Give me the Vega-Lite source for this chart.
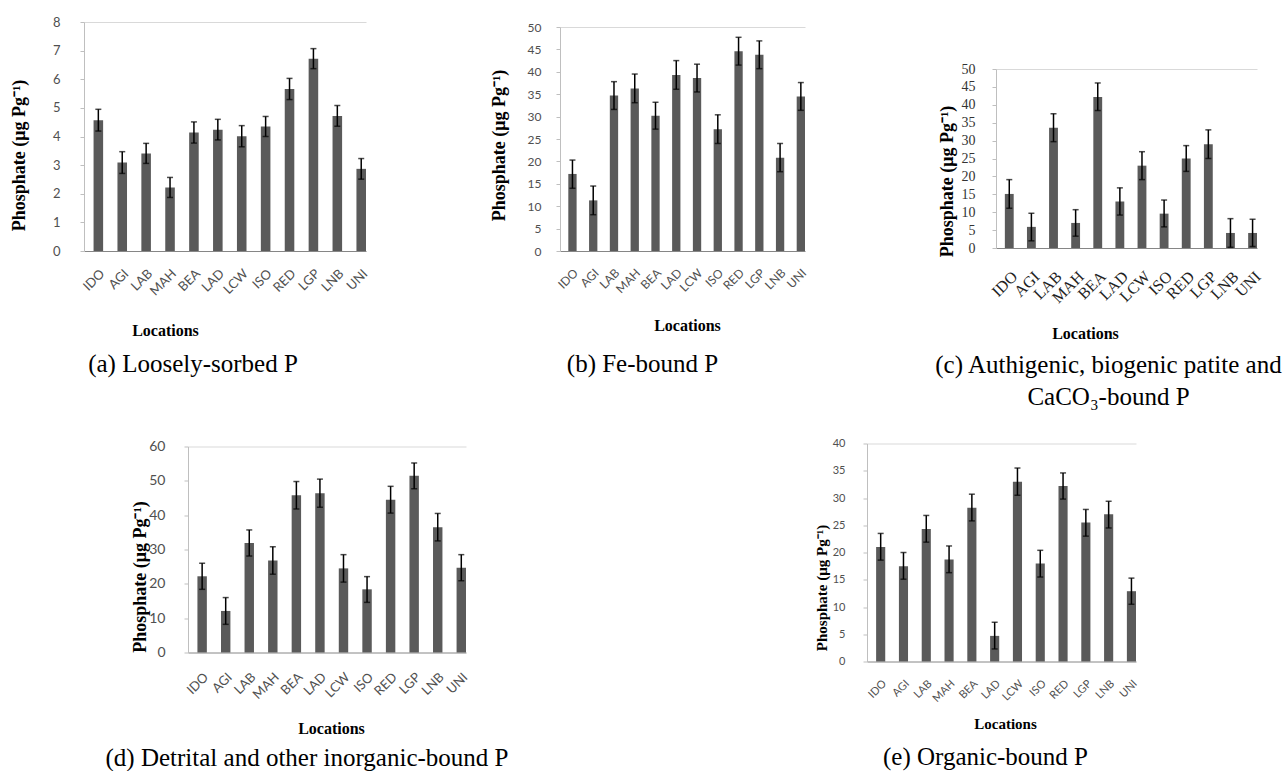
{
  "$schema": "https://vega.github.io/schema/vega-lite/v6.json",
  "background": "white",
  "padding": {"left": 9, "top": 10, "right": 0, "bottom": 0},
  "config": {
    "view": {"stroke": null},
    "axis": {"labelFont": "Lato", "labelColor": "#505050", "titleFont": "Liberation Serif", "titleFontWeight": "bold", "titleColor": "#000000", "domainColor": "#a6a6a6", "tickColor": "#a6a6a6", "titleAlign": "center", "titleBaseline": "middle", "labelOverlap": false},
    "axisX": {"labelAngle": -45, "ticks": false, "titleAngle": 0, "domainColor": "#868686", "labelFontSize": 12},
    "axisY": {"tickSize": 4, "titleAngle": -90, "labelFontSize": 12, "grid": true, "domainColor": "#bfbfbf", "tickColor": "#bfbfbf"},
    "bar": {"color": "#5a5a5a"},
    "title": {"orient": "bottom", "anchor": "middle", "frame": "group", "font": "Liberation Serif", "fontSize": 25, "fontWeight": "normal", "color": "#000000", "lineHeight": 32}
  },
  "datasets": {
    "a": [
      {"loc": "IDO", "v": 4.57, "lo": 4.19, "hi": 4.95},
      {"loc": "AGI", "v": 3.09, "lo": 2.71, "hi": 3.47},
      {"loc": "LAB", "v": 3.41, "lo": 3.06, "hi": 3.76},
      {"loc": "MAH", "v": 2.22, "lo": 1.87, "hi": 2.57},
      {"loc": "BEA", "v": 4.14, "lo": 3.77, "hi": 4.51},
      {"loc": "LAD", "v": 4.24, "lo": 3.88, "hi": 4.60},
      {"loc": "LCW", "v": 4.01, "lo": 3.64, "hi": 4.38},
      {"loc": "ISO", "v": 4.35, "lo": 4.00, "hi": 4.70},
      {"loc": "RED", "v": 5.66, "lo": 5.29, "hi": 6.03},
      {"loc": "LGP", "v": 6.72, "lo": 6.37, "hi": 7.07},
      {"loc": "LNB", "v": 4.72, "lo": 4.36, "hi": 5.08},
      {"loc": "UNI", "v": 2.87, "lo": 2.51, "hi": 3.23}
    ],
    "b": [
      {"loc": "IDO", "v": 17.2, "lo": 14.0, "hi": 20.3},
      {"loc": "AGI", "v": 11.3, "lo": 8.1, "hi": 14.5},
      {"loc": "LAB", "v": 34.7, "lo": 31.6, "hi": 37.8},
      {"loc": "MAH", "v": 36.3, "lo": 33.1, "hi": 39.5},
      {"loc": "BEA", "v": 30.2, "lo": 27.2, "hi": 33.2},
      {"loc": "LAD", "v": 39.3, "lo": 36.1, "hi": 42.5},
      {"loc": "LCW", "v": 38.6, "lo": 35.5, "hi": 41.7},
      {"loc": "ISO", "v": 27.2, "lo": 24.0, "hi": 30.4},
      {"loc": "RED", "v": 44.6, "lo": 41.5, "hi": 47.7},
      {"loc": "LGP", "v": 43.8, "lo": 40.7, "hi": 46.9},
      {"loc": "LNB", "v": 20.8, "lo": 17.7, "hi": 24.0},
      {"loc": "UNI", "v": 34.5, "lo": 31.4, "hi": 37.6}
    ],
    "c": [
      {"loc": "IDO", "v": 15.1, "lo": 11.1, "hi": 19.1},
      {"loc": "AGI", "v": 5.9, "lo": 2.0, "hi": 9.7},
      {"loc": "LAB", "v": 33.6, "lo": 29.7, "hi": 37.5},
      {"loc": "MAH", "v": 7.0, "lo": 3.3, "hi": 10.7},
      {"loc": "BEA", "v": 42.2, "lo": 38.4, "hi": 46.1},
      {"loc": "LAD", "v": 13.0, "lo": 9.2, "hi": 16.8},
      {"loc": "LCW", "v": 23.0, "lo": 19.1, "hi": 26.9},
      {"loc": "ISO", "v": 9.6, "lo": 5.9, "hi": 13.4},
      {"loc": "RED", "v": 25.0, "lo": 21.4, "hi": 28.6},
      {"loc": "LGP", "v": 29.0, "lo": 25.0, "hi": 33.0},
      {"loc": "LNB", "v": 4.2, "lo": 0.2, "hi": 8.2},
      {"loc": "UNI", "v": 4.2, "lo": 0.4, "hi": 8.0}
    ],
    "d": [
      {"loc": "IDO", "v": 22.2, "lo": 18.4, "hi": 26.0},
      {"loc": "AGI", "v": 12.1, "lo": 8.2, "hi": 16.0},
      {"loc": "LAB", "v": 31.9, "lo": 28.1, "hi": 35.7},
      {"loc": "MAH", "v": 26.8, "lo": 22.8, "hi": 30.8},
      {"loc": "BEA", "v": 45.8, "lo": 41.8, "hi": 49.8},
      {"loc": "LAD", "v": 46.4, "lo": 42.3, "hi": 50.5},
      {"loc": "LCW", "v": 24.5, "lo": 20.5, "hi": 28.5},
      {"loc": "ISO", "v": 18.4, "lo": 14.6, "hi": 22.1},
      {"loc": "RED", "v": 44.5, "lo": 40.6, "hi": 48.4},
      {"loc": "LGP", "v": 51.5, "lo": 47.7, "hi": 55.2},
      {"loc": "LNB", "v": 36.5, "lo": 32.5, "hi": 40.5},
      {"loc": "UNI", "v": 24.7, "lo": 20.9, "hi": 28.5}
    ],
    "e": [
      {"loc": "IDO", "v": 21.0, "lo": 18.6, "hi": 23.5},
      {"loc": "AGI", "v": 17.5, "lo": 15.1, "hi": 20.0},
      {"loc": "LAB", "v": 24.3, "lo": 21.9, "hi": 26.8},
      {"loc": "MAH", "v": 18.7, "lo": 16.3, "hi": 21.2},
      {"loc": "BEA", "v": 28.2, "lo": 25.8, "hi": 30.7},
      {"loc": "LAD", "v": 4.7, "lo": 2.3, "hi": 7.2},
      {"loc": "LCW", "v": 33.0, "lo": 30.5, "hi": 35.5},
      {"loc": "ISO", "v": 18.0, "lo": 15.5, "hi": 20.4},
      {"loc": "RED", "v": 32.2, "lo": 29.8, "hi": 34.6},
      {"loc": "LGP", "v": 25.5, "lo": 23.0, "hi": 27.9},
      {"loc": "LNB", "v": 27.0, "lo": 24.5, "hi": 29.4},
      {"loc": "UNI", "v": 12.9, "lo": 10.5, "hi": 15.3}
    ]
  },
  "spacing": 26.5,
  "vconcat": [
    {
      "spacing": 119,
      "hconcat": [
        {
          "spacing": 0,
          "vconcat": [
            {"width": 1, "height": 6, "data": {"values": []}, "mark": {"type": "point", "opacity": 0}},
            {
              "width": 282, "height": 229,
              "data": {"name": "a"},
              "title": {"text": "(a) Loosely-sorbed P", "dx": -32, "offset": 14},
              "encoding": {
                "x": {"field": "loc", "type": "nominal", "sort": null, "scale": {"paddingInner": 0.6, "paddingOuter": 0.2, "align": 1},
                  "axis": {"title": "Locations", "titleFontSize": 16, "titleX": 81, "titleY": 79, "labelPadding": 16, "labelFontSize": 13}}
              },
              "layer": [
                {"mark": "bar", "encoding": {"y": {"field": "v", "type": "quantitative", "scale": {"domain": [0, 8], "nice": false},
                  "axis": {"title": "Phosphate (μg Pg⁻¹)", "values": [0, 1, 2, 3, 4, 5, 6, 7, 8], "titleFontSize": 18, "titleX": -65, "titleY": 133, "labelPadding": 20, "labelFontSize": 13,
                    "gridColor": {"condition": {"test": "datum.value === 8", "value": "#d9d9d9"}, "value": "transparent"}}}}},
                {"mark": {"type": "errorbar", "color": "#000000", "thickness": 1.5, "ticks": {"size": 6, "thickness": 1.5, "color": "#000000"}},
                  "encoding": {"y": {"field": "lo", "type": "quantitative", "scale": {"domain": [0, 8], "nice": false},
                    "axis": {"title": "Phosphate (μg Pg⁻¹)", "values": [0, 1, 2, 3, 4, 5, 6, 7, 8], "titleFontSize": 18, "titleX": -65, "titleY": 133, "labelPadding": 20, "labelFontSize": 13,
                      "gridColor": {"condition": {"test": "datum.value === 8", "value": "#d9d9d9"}, "value": "transparent"}}}, "y2": {"field": "hi"}}}
              ]
            }
          ]
        },
        {
          "spacing": 125,
          "hconcat": [
            {
              "spacing": 0,
              "vconcat": [
                {"width": 1, "height": 11, "data": {"values": []}, "mark": {"type": "point", "opacity": 0}},
                {
                  "width": 245, "height": 224,
                  "data": {"name": "b"},
                  "title": {"text": "(b) Fe-bound P", "dx": -40, "offset": 19},
                  "encoding": {
                    "x": {"field": "loc", "type": "nominal", "sort": null, "scale": {"paddingInner": 0.6, "paddingOuter": 0.2, "align": 1},
                      "axis": {"title": "Locations", "titleFontSize": 16, "titleX": 127, "titleY": 74, "labelPadding": 16, "labelFontSize": 12}}
                  },
                  "layer": [
                    {"mark": "bar", "encoding": {"y": {"field": "v", "type": "quantitative", "scale": {"domain": [0, 50], "nice": false},
                      "axis": {"title": "Phosphate (μg Pg⁻¹)", "values": [0, 5, 10, 15, 20, 25, 30, 35, 40, 45, 50], "titleFontSize": 18, "titleX": -61, "titleY": 118, "labelPadding": 15, "labelFontSize": 12,
                        "gridColor": {"condition": {"test": "datum.value === 50", "value": "#d9d9d9"}, "value": "transparent"}}}}},
                    {"mark": {"type": "errorbar", "color": "#000000", "thickness": 1.5, "ticks": {"size": 6, "thickness": 1.5, "color": "#000000"}},
                      "encoding": {"y": {"field": "lo", "type": "quantitative", "scale": {"domain": [0, 50], "nice": false},
                        "axis": {"title": "Phosphate (μg Pg⁻¹)", "values": [0, 5, 10, 15, 20, 25, 30, 35, 40, 45, 50], "titleFontSize": 18, "titleX": -61, "titleY": 118, "labelPadding": 15, "labelFontSize": 12,
                          "gridColor": {"condition": {"test": "datum.value === 50", "value": "#d9d9d9"}, "value": "transparent"}}}, "y2": {"field": "hi"}}}
                  ]
                }
              ]
            },
            {
              "spacing": 0,
              "vconcat": [
                {"width": 1, "height": 52, "data": {"values": []}, "mark": {"type": "point", "opacity": 0}},
                {
                  "width": 261, "height": 179,
                  "data": {"name": "c"},
                  "title": {"text": ["(c) Authigenic, biogenic patite and", "CaCO₃-bound P"], "dx": -18, "offset": 12},
                  "encoding": {
                    "x": {"field": "loc", "type": "nominal", "sort": null, "scale": {"paddingInner": 0.6, "paddingOuter": 0.2, "align": 1},
                      "axis": {"title": "Locations", "titleFontSize": 16, "titleX": 89, "titleY": 85, "labelPadding": 20, "labelFont": "Liberation Serif", "labelFontSize": 16, "labelColor": "#222222"}}
                  },
                  "layer": [
                    {"mark": "bar", "encoding": {"y": {"field": "v", "type": "quantitative", "scale": {"domain": [0, 50], "nice": false},
                      "axis": {"title": "Phosphate (μg Pg⁻¹)", "values": [0, 5, 10, 15, 20, 25, 30, 35, 40, 45, 50], "titleFontSize": 18, "titleX": -49, "titleY": 112, "labelPadding": 17, "labelFont": "Liberation Serif", "labelFontSize": 14, "labelColor": "#333333",
                        "gridColor": {"condition": {"test": "datum.value === 50", "value": "#d9d9d9"}, "value": "transparent"}}}}},
                    {"mark": {"type": "errorbar", "color": "#000000", "thickness": 1.5, "ticks": {"size": 6, "thickness": 1.5, "color": "#000000"}},
                      "encoding": {"y": {"field": "lo", "type": "quantitative", "scale": {"domain": [0, 50], "nice": false},
                        "axis": {"title": "Phosphate (μg Pg⁻¹)", "values": [0, 5, 10, 15, 20, 25, 30, 35, 40, 45, 50], "titleFontSize": 18, "titleX": -49, "titleY": 112, "labelPadding": 17, "labelFont": "Liberation Serif", "labelFontSize": 14, "labelColor": "#333333",
                          "gridColor": {"condition": {"test": "datum.value === 50", "value": "#d9d9d9"}, "value": "transparent"}}}, "y2": {"field": "hi"}}}
                  ]
                }
              ]
            }
          ]
        }
      ]
    },
    {
      "spacing": 0,
      "hconcat": [
        {"width": 21, "height": 1, "data": {"values": []}, "mark": {"type": "point", "opacity": 0}},
        {
          "spacing": 305,
          "hconcat": [
            {
              "spacing": 0,
              "vconcat": [
                {"width": 1, "height": 2.5, "data": {"values": []}, "mark": {"type": "point", "opacity": 0}},
                {
                  "width": 278, "height": 206,
                  "data": {"name": "d"},
                  "title": {"text": "(d) Detrital and other inorganic-bound P", "dx": -20, "offset": 9},
                  "encoding": {
                    "x": {"field": "loc", "type": "nominal", "sort": null, "scale": {"paddingInner": 0.6, "paddingOuter": 0.2, "align": 1},
                      "axis": {"title": "Locations", "titleFontSize": 16, "titleX": 143, "titleY": 76, "labelPadding": 18, "labelFontSize": 13}}
                  },
                  "layer": [
                    {"mark": "bar", "encoding": {"y": {"field": "v", "type": "quantitative", "scale": {"domain": [0, 60], "nice": false},
                      "axis": {"title": "Phosphate (μg Pg⁻¹)", "values": [0, 10, 20, 30, 40, 50, 60], "titleFontSize": 18, "titleX": -48, "titleY": 130, "labelPadding": 19, "labelFontSize": 14,
                        "gridColor": {"condition": {"test": "datum.value === 60", "value": "#d9d9d9"}, "value": "transparent"}}}}},
                    {"mark": {"type": "errorbar", "color": "#000000", "thickness": 1.5, "ticks": {"size": 6, "thickness": 1.5, "color": "#000000"}},
                      "encoding": {"y": {"field": "lo", "type": "quantitative", "scale": {"domain": [0, 60], "nice": false},
                        "axis": {"title": "Phosphate (μg Pg⁻¹)", "values": [0, 10, 20, 30, 40, 50, 60], "titleFontSize": 18, "titleX": -48, "titleY": 130, "labelPadding": 19, "labelFontSize": 14,
                          "gridColor": {"condition": {"test": "datum.value === 60", "value": "#d9d9d9"}, "value": "transparent"}}}, "y2": {"field": "hi"}}}
                  ]
                }
              ]
            },
            {
              "spacing": 0,
              "vconcat": [
                {"width": 1, "height": 1, "data": {"values": []}, "mark": {"type": "point", "opacity": 0}},
                {
                  "width": 269, "height": 218,
                  "data": {"name": "e"},
                  "title": {"text": "(e) Organic-bound P", "dx": -16, "offset": 13},
                  "encoding": {
                    "x": {"field": "loc", "type": "nominal", "sort": null, "scale": {"paddingInner": 0.6, "paddingOuter": 0.2, "align": 1},
                      "axis": {"title": "Locations", "titleFontSize": 15, "titleX": 138, "titleY": 62, "labelPadding": 16, "labelFontSize": 11}}
                  },
                  "layer": [
                    {"mark": "bar", "encoding": {"y": {"field": "v", "type": "quantitative", "scale": {"domain": [0, 40], "nice": false},
                      "axis": {"title": "Phosphate (μg Pg⁻¹)", "values": [0, 5, 10, 15, 20, 25, 30, 35, 40], "titleFontSize": 15, "titleX": -46, "titleY": 144, "labelPadding": 18, "labelFontSize": 11,
                        "gridColor": {"condition": {"test": "datum.value === 40", "value": "#d9d9d9"}, "value": "transparent"}}}}},
                    {"mark": {"type": "errorbar", "color": "#000000", "thickness": 1.5, "ticks": {"size": 6, "thickness": 1.5, "color": "#000000"}},
                      "encoding": {"y": {"field": "lo", "type": "quantitative", "scale": {"domain": [0, 40], "nice": false},
                        "axis": {"title": "Phosphate (μg Pg⁻¹)", "values": [0, 5, 10, 15, 20, 25, 30, 35, 40], "titleFontSize": 15, "titleX": -46, "titleY": 144, "labelPadding": 18, "labelFontSize": 11,
                          "gridColor": {"condition": {"test": "datum.value === 40", "value": "#d9d9d9"}, "value": "transparent"}}}, "y2": {"field": "hi"}}}
                  ]
                }
              ]
            }
          ]
        }
      ]
    }
  ]
}
